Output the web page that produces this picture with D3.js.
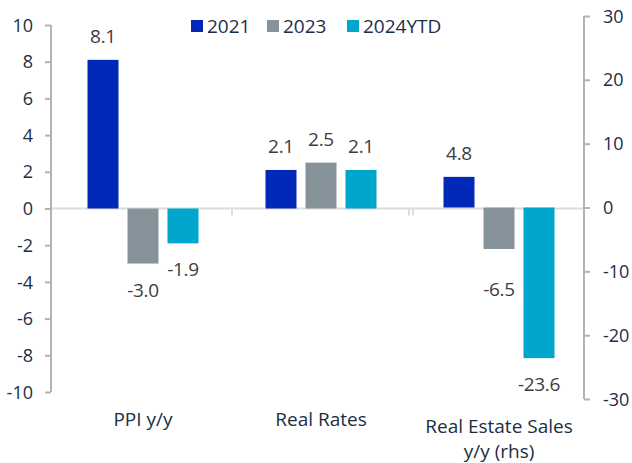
<!DOCTYPE html>
<html><head><meta charset="utf-8">
<script src="https://cdn.jsdelivr.net/npm/d3@7"></script>
<style>
body{margin:0;background:#fff;}
svg{display:block;font-family:"Open Sans",sans-serif;}
</style></head>
<body>
<svg id="c" width="632" height="463"></svg>
<script>
const categories = ["PPI y/y", "Real Rates", "Real Estate Sales\ny/y (rhs)"];
const series = ["2021", "2023", "2024YTD"];
const v2021 = [8.1, 2.1, 4.8];
const v2023 = [-3.0, 2.5, -6.5];
const v2024 = [-1.9, 2.1, -23.6];
const useRight = [false, false, true];
const leftTicks = [-10, -8, -6, -4, -2, 0, 2, 4, 6, 8, 10];
const rightTicks = [-30, -20, -10, 0, 10, 20, 30];

const colors = {"2021": "#0029b8", "2023": "#87939a", "2024YTD": "#00a6cb"};
const values = {"2021": v2021, "2023": v2023, "2024YTD": v2024};

const svg = d3.select("#c");
const x0 = d3.scaleBand().domain(categories).range([54, 588]).padding(0);
const x1 = d3.scaleBand().domain(series).range([0, 111]).paddingInner(0.225);
const innerOff = (x0.bandwidth() - 111) / 2;
const yL = d3.scaleLinear().domain([-10, 10]).range([392, 25]);
const yR = d3.scaleLinear().domain([-30, 30]).range([399, 16]);
const fmt = d => String(d);

// zero line
svg.append("line").attr("x1", 51).attr("x2", 584).attr("y1", yL(0)).attr("y2", yL(0))
  .attr("stroke", "#dcdcdc").attr("stroke-width", 2);
// category separator ticks
[x0(categories[1]), x0(categories[2]) - 1, x0(categories[2]) + 3].forEach(px => {
  svg.append("line").attr("x1", px).attr("x2", px).attr("y1", yL(0)).attr("y2", yL(0) + 7)
    .attr("stroke", "#dcdcdc").attr("stroke-width", 2);
});

// axes
const gL = svg.append("g").attr("transform", "translate(51,0)")
  .call(d3.axisLeft(yL).tickValues(leftTicks).tickFormat(fmt).tickSize(6).tickPadding(12).tickSizeOuter(0));
const gR = svg.append("g").attr("transform", "translate(584,0)")
  .call(d3.axisRight(yR).tickValues(rightTicks).tickFormat(fmt).tickSize(6).tickPadding(13).tickSizeOuter(0));
[gL, gR].forEach(g => {
  g.select(".domain").attr("stroke", "#b3b3b3").attr("stroke-width", 2);
  g.selectAll(".tick line").attr("stroke", "#b3b3b3").attr("stroke-width", 2);
  g.selectAll(".tick text").attr("fill", "#1b2e45").style("font-size", "18px")
    .style("font-family", "'Open Sans',sans-serif").attr("dy", "0.34em");
});
gR.select(".domain").attr("d", `M0,${yR(30)}V${yR(-30)}`);
gL.select(".domain").attr("d", `M0,${yL(10)}V${yL(-10)}`);

// bars
const labelNudge = {"2023|2": 14};
categories.forEach((cat, ci) => {
  const y = useRight[ci] ? yR : yL;
  series.forEach(s => {
    const v = values[s][ci];
    const bx = x0(cat) + innerOff + x1(s);
    const top = y(Math.max(v, 0)), bot = y(Math.min(v, 0));
    svg.append("rect").attr("x", bx).attr("y", top).attr("width", x1.bandwidth())
      .attr("height", bot - top).attr("fill", colors[s]);
    const nudge = labelNudge[s + "|" + ci] || 0;
    svg.append("text").attr("x", bx + x1.bandwidth() / 2)
      .attr("y", v >= 0 ? top - 17 : bot + 33 + nudge)
      .attr("text-anchor", "middle").attr("fill", "#3d3d3d")
      .style("font-size", "19px").style("letter-spacing", "-0.3px")
      .text(v.toFixed(1));
  });
});

// category labels
categories.forEach(cat => {
  const lines = cat.split("\n");
  const cx = x0(cat) + x0.bandwidth() / 2;
  const startY = lines.length === 1 ? 419 : 426;
  lines.forEach((ln, i) => {
    svg.append("text").attr("x", cx).attr("y", startY + i * 25).attr("dy", "0.35em")
      .attr("text-anchor", "middle").attr("fill", "#1b2e45")
      .style("font-size", "19px").text(ln);
  });
});

// legend
const legX = [191, 267, 347];
series.forEach((s, i) => {
  svg.append("rect").attr("x", legX[i]).attr("y", 20).attr("width", 12).attr("height", 12).attr("fill", colors[s]);
  svg.append("text").attr("x", legX[i] + 16).attr("y", 26).attr("dy", "0.35em")
    .attr("fill", "#1b2e45").style("font-size", "19px").text(s);
});
</script>
</body></html>
